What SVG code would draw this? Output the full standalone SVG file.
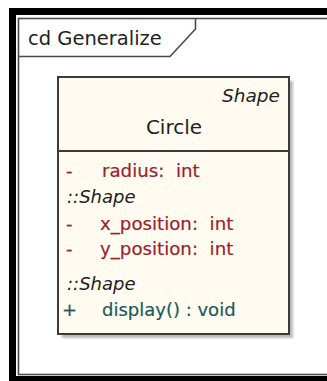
<svg xmlns="http://www.w3.org/2000/svg" width="327" height="381" viewBox="0 0 327 381">
  <style>
    text { font-family: "DejaVu Sans", Verdana, sans-serif; white-space: pre; }
    .frame-title { font-size: 19.5px; fill: #222; }
    .stereo { font-size: 18.5px; font-style: italic; fill: #222; }
    .cname { font-size: 20px; fill: #222; }
    .attr { font-size: 18.2px; fill: #9c1f2c; stroke: #9c1f2c; stroke-width: 0.2; }
    .scope { font-size: 18px; font-style: italic; fill: #222; }
    .oper { font-size: 18px; fill: #1c5a58; stroke: #1c5a58; stroke-width: 0.2; }
    .edge { fill: none; stroke: #4a4a4a; stroke-width: 1.6; }
  </style>
  <defs>
    <filter id="soft" x="-5%" y="-5%" width="110%" height="110%">
      <feGaussianBlur stdDeviation="1.2"/>
    </filter>
  </defs>

  <rect x="0" y="0" width="327" height="381" fill="#ffffff"/>

  <!-- window border -->
  <g id="window-border">
    <rect x="9" y="8" width="330" height="7" fill="#000"/>
    <rect x="9" y="8" width="7" height="380" fill="#000"/>
    <rect x="9" y="376" width="330" height="6" fill="#000"/>
  </g>

  <!-- diagram frame with name tab -->
  <g id="frame">
    <rect x="18.5" y="18.5" width="320" height="356" class="edge"/>
    <path d="M18.5 56.5 H170 L195.5 29 V18.5" class="edge"/>
    <text x="28" y="45" class="frame-title">cd Generalize</text>
  </g>

  <!-- class Circle -->
  <g id="circle">
    <rect x="62" y="81" width="231" height="257" fill="#b9b9b9" filter="url(#soft)"/>
    <rect x="58" y="77" width="231" height="257" fill="#fffbf1" stroke="#3a3a3a" stroke-width="2"/>
    <line x1="58" y1="151" x2="289" y2="151" stroke="#3a3a3a" stroke-width="2"/>

    <text x="280" y="102" class="stereo" text-anchor="end">Shape</text>
    <text x="174" y="134" class="cname" text-anchor="middle">Circle</text>

    <text x="66" y="177" class="attr">-</text>
    <text x="102" y="177" class="attr">radius:  int</text>

    <text x="67" y="203" class="scope">::Shape</text>

    <text x="66" y="230" class="attr">-</text>
    <text x="100" y="230" class="attr">x_position:  int</text>

    <text x="66" y="255" class="attr">-</text>
    <text x="100" y="255" class="attr">y_position:  int</text>

    <text x="67" y="290" class="scope">::Shape</text>

    <text x="62" y="316" class="oper">+</text>
    <text x="102" y="316" class="oper">display() : void</text>
  </g>
</svg>
